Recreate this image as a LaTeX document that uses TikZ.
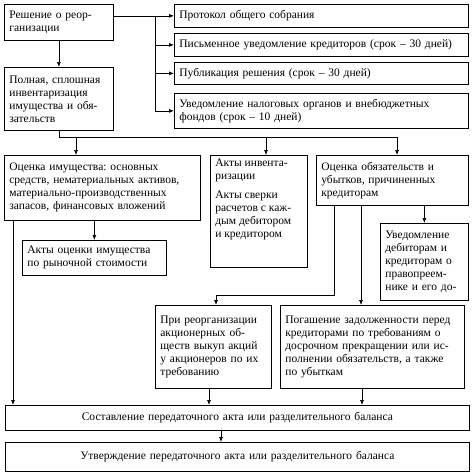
\documentclass[tikz,border=0pt]{standalone}
\usepackage{fontspec}
\setmainfont{Liberation Serif}
\usetikzlibrary{arrows.meta}
\frenchspacing

\tikzset{
  blk/.style={draw, anchor=north west, inner xsep=5pt, inner ysep=0pt, align=left,
    font=\fontsize{11.5}{13}\selectfont},
  wide/.style={blk, align=center, minimum width=464, minimum height=#1, text width=454},
  arr/.style={-{Latex[length=5pt,width=4pt]}}
}

\begin{document}
\begin{tikzpicture}[x=1pt,y=-1pt,line width=0.7pt]
\useasboundingbox (0,0) rectangle (474,475);

\node[blk,minimum width=109,minimum height=36,text width=99] (r1) at (4,4) {Решение о реор-\\ганизации};
\node[blk,minimum width=109,minimum height=63,text width=99] (r2) at (4,67) {Полная, сплошная\\инвентаризация\\имущества и обя-\\зательств};

\node[blk,minimum width=294,minimum height=23,text width=284] (p1) at (174,4) {Протокол общего собрания};
\node[blk,minimum width=294,minimum height=23,text width=284] (p2) at (174,33) {Письменное уведомление кредиторов (срок – 30 дней)};
\node[blk,minimum width=294,minimum height=22,text width=284] (p3) at (174,62) {Публикация решения (срок – 30 дней)};
\node[blk,minimum width=294,minimum height=35,text width=284] (p4) at (174,93) {Уведомление налоговых органов и внебюджетных\\фондов (срок – 10 дней)};

\node[blk,minimum width=196,minimum height=65,text width=186] (o1) at (4,155) {Оценка имущества: основных\\средств, нематериальных активов,\\материально-производственных\\запасов, финансовых вложений};
\node[blk,minimum width=97,minimum height=112] (o2) at (210,155) {\parbox[t][106pt][t]{87pt}{\vspace{1pt}Акты инвента-\\ризации\\[6pt]Акты сверки\\расчетов с каж-\\дым дебитором\\и кредитором}};
\node[blk,minimum width=152,minimum height=50,text width=142] (o3) at (316,155) {Оценка обязательств и\\убытков, причиненных\\кредиторам};

\node[blk,minimum width=144,minimum height=35,text width=134] (a) at (22,240) {Акты оценки имущества\\по рыночной стоимости};
\node[blk,minimum width=88,minimum height=77,text width=78] (u) at (380,223) {Уведомление\\дебиторам и\\кредиторам о\\правопреем-\\нике и его до-};

\node[blk,minimum width=116,minimum height=83,text width=106] (pr) at (155,305) {При реорганизации\\акционерных об-\\ществ выкуп акций\\у акционеров по их\\требованию};
\node[blk,minimum width=184,minimum height=83,text width=174] (pg) at (280,305) {Погашение задолженности перед\\кредиторами по требованиям о\\досрочном прекращении или ис-\\полнении обязательств, а также\\по убыткам};

\node[wide=25] (s) at (5,405) {Составление передаточного акта или разделительного баланса};
\node[wide=29] (t) at (5,442) {Утверждение передаточного акта или разделительного баланса};

% top part
\coordinate (j1) at (155,16);
\draw[arr] (r1.south) -- (r2.north);
\draw[arr] (r1.east |- p1.west) -- (p1.west);
\draw (j1) -- (j1 |- p4.west);
\draw[arr] (j1 |- p2.west) -- (p2.west);
\draw[arr] (j1 |- p3.west) -- (p3.west);
\draw[arr] (j1 |- p4.west) -- (p4.west);

% distribution line
\coordinate (h) at (0,137);
\coordinate (d1) at (76,0);
\coordinate (d2) at (266,0);
\coordinate (d3) at (397,0);
\draw (r2.south) -- (r2.south |- h) -- (d3 |- h);
\draw[arr] (d1 |- h) -- (d1 |- o1.north);
\draw[arr] (d2 |- h) -- (d2 |- o2.north);
\draw[arr] (d3 |- h) -- (d3 |- o3.north);

% lower part
\coordinate (l1) at (13,0);
\coordinate (e1) at (334,295);
\coordinate (e2) at (216,0);
\coordinate (e3) at (361,0);
\draw[arr] (a.north |- o1.south) -- (a.north);
\draw[arr] (l1 |- o1.south) -- (l1 |- s.north);
\draw[arr] (u.north |- o3.south) -- (u.north);
\draw[arr] (e1 |- o3.south) -- (e1) -- (e2 |- e1) -- (e2 |- pr.north);
\draw[arr] (e3 |- o3.south) -- (e3 |- pg.north);

\coordinate (f1) at (209,0);
\coordinate (f2) at (362,0);
\coordinate (f3) at (221,0);
\draw[arr] (f1 |- pr.south) -- (f1 |- s.north);
\draw[arr] (f2 |- pg.south) -- (f2 |- s.north);
\draw[arr] (f3 |- s.south) -- (f3 |- t.north);
\end{tikzpicture}
\end{document}
